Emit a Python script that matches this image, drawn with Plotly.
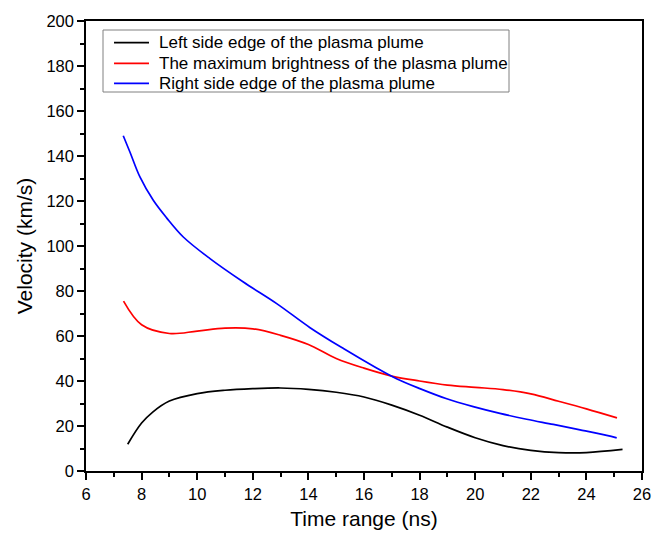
import plotly.graph_objects as go

# Data
black_x = [7.5, 8.0, 8.4, 9.0, 10.0, 11.0, 12.0, 13.0, 14.0, 15.0, 16.0, 17.0, 18.0, 19.0, 20.0, 21.0, 22.0, 23.0, 24.0, 25.3]
black_y = [11.9, 21.3, 26.2, 31.1, 34.4, 35.9, 36.6, 36.9, 36.3, 35.0, 32.9, 29.3, 24.8, 19.5, 14.8, 11.3, 9.2, 8.2, 8.2, 9.6]

red_x = [7.35, 8.0, 9.0, 10.0, 11.0, 12.0, 13.0, 14.0, 15.0, 16.0, 17.0, 18.0, 19.0, 20.0, 21.0, 22.0, 23.0, 24.0, 25.1]
red_y = [75.5, 65.0, 61.1, 62.2, 63.5, 63.2, 60.3, 56.2, 50.0, 45.7, 42.2, 40.0, 38.2, 37.2, 36.2, 34.3, 31.0, 27.6, 23.6]

blue_x = [7.34, 7.58, 7.94, 8.42, 8.9, 9.5, 10.46, 11.66, 12.86, 14.06, 15.26, 16.42, 17.17, 18.01, 18.95, 19.93, 20.89, 21.85, 22.81, 23.77, 24.73, 25.09]
blue_y = [149.0, 141.8, 130.7, 120.3, 112.5, 104.0, 94.4, 84.0, 74.4, 63.7, 54.4, 46.0, 41.0, 36.6, 32.2, 28.6, 25.6, 23.0, 20.7, 18.3, 15.8, 14.7]

names = ["Left side edge of the plasma plume",
         "The maximum brightness of the plasma plume",
         "Right side edge of the plasma plume"]
colors = ["black", "red", "blue"]

x_ticks = [6, 8, 10, 12, 14, 16, 18, 20, 22, 24, 26]
y_ticks = [0, 20, 40, 60, 80, 100, 120, 140, 160, 180, 200]

FONT = "Liberation Sans, Arial"

fig = go.Figure()
for xs, ys, nm, col in zip([black_x, red_x, blue_x], [black_y, red_y, blue_y], names, colors):
    fig.add_trace(go.Scatter(x=xs, y=ys, mode="lines", name=nm, showlegend=False,
                             line=dict(color=col, width=1.7, shape="spline", smoothing=1.0)))

axis_common = dict(showline=True, linecolor="black", linewidth=1.5, mirror=True,
                   ticks="outside", ticklen=7, tickwidth=1.5, tickcolor="black",
                   showgrid=False, zeroline=False, automargin=False,
                   tickfont=dict(family=FONT, size=16.5, color="black"))

fig.update_xaxes(range=[6, 26], tickvals=x_ticks,
                 minor=dict(dtick=1, tick0=6, ticks="outside", ticklen=4, tickwidth=1.5, tickcolor="black"),
                 title=dict(text="Time range (ns)", font=dict(family=FONT, size=21, color="black"), standoff=10),
                 **axis_common)
fig.update_yaxes(range=[0, 200], tickvals=y_ticks,
                 minor=dict(dtick=10, tick0=0, ticks="outside", ticklen=4, tickwidth=1.5, tickcolor="black"),
                 title=dict(text="Velocity (km/s)", font=dict(family=FONT, size=21, color="black"), standoff=8),
                 **axis_common)

# Legend box (drawn in paper coordinates to match the reference's compact spacing)
box_x0, box_x1, box_y0, box_y1 = 0.0306, 0.7608, 0.8422, 0.98
row_y = [0.9518, 0.906, 0.8616]
seg_x0, seg_x1, text_x = 0.0504, 0.1133, 0.1277

shapes = [dict(type="rect", xref="paper", yref="paper", x0=box_x0, x1=box_x1, y0=box_y0, y1=box_y1,
               line=dict(color="#808080", width=1), fillcolor="white", layer="below")]
annotations = []
for nm, col, yy in zip(names, colors, row_y):
    shapes.append(dict(type="line", xref="paper", yref="paper", x0=seg_x0, x1=seg_x1, y0=yy, y1=yy,
                       line=dict(color=col, width=1.7)))
    annotations.append(dict(text=nm, xref="paper", yref="paper", x=text_x, y=yy,
                            xanchor="left", yanchor="middle", showarrow=False,
                            font=dict(family=FONT, size=17, color="black")))

fig.update_layout(
    width=652, height=536,
    margin=dict(l=86, r=10, t=21, b=65, autoexpand=False),
    plot_bgcolor="white", paper_bgcolor="white",
    font=dict(family=FONT, color="black"),
    shapes=shapes, annotations=annotations,
    showlegend=False,
)

fig.write_html("out.html", config={"displayModeBar": False},
               post_script="document.body.style.margin='0';document.body.style.overflow='hidden';")
